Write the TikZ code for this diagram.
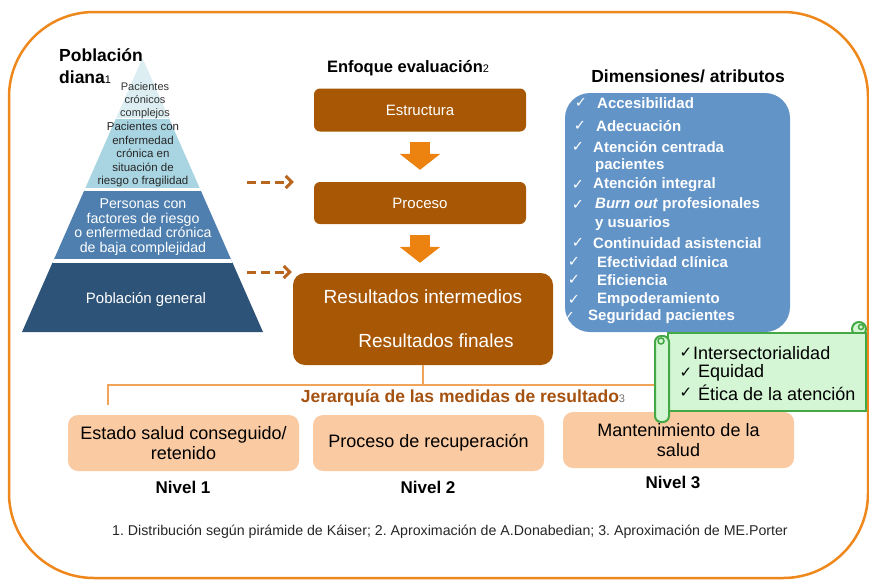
\documentclass[tikz,border=0pt]{standalone}
\usepackage{fontspec}
\setmainfont{Liberation Sans}
\newfontfamily\chkfont{DejaVu Sans}
\usetikzlibrary{arrows.meta}

\definecolor{frameor}{RGB}{238,136,28}
\definecolor{boxbrown}{RGB}{168,88,4}
\definecolor{arrowor}{RGB}{236,130,16}
\definecolor{dashor}{RGB}{184,102,30}
\definecolor{lineor}{RGB}{242,163,90}
\definecolor{peach}{RGB}{250,202,162}
\definecolor{jerbrown}{RGB}{165,81,15}
\definecolor{attrblue}{RGB}{99,148,200}
\definecolor{pyrA}{RGB}{220,238,242}
\definecolor{pyrB}{RGB}{169,213,227}
\definecolor{pyrC}{RGB}{78,127,175}
\definecolor{pyrD}{RGB}{46,83,120}
\definecolor{scrollfill}{RGB}{212,246,212}
\definecolor{scrollline}{RGB}{68,168,68}

\newcommand\fsz[2]{\fontsize{#1}{#2}\selectfont}
\newcommand\checkmk{{\chkfont ✓}}
\frenchspacing

\tikzset{
  evalbox/.style={fill=boxbrown, rounded corners=6pt, text=white, font=\fsz{15}{18},
    minimum width=212pt, minimum height=43pt},
  lvlbox/.style={fill=peach, rounded corners=10pt, minimum width=231pt, minimum height=56pt,
    font=\fsz{18}{20}, align=center},
  downarrow/.style={arrowor, line width=20pt, -{Triangle[length=16pt,width=40pt]}},
  dasharrow/.style={dashor, line width=3pt, dash pattern=on 9pt off 5pt,
    -{Straight Barb[length=6pt,width=12pt]}},
  linkline/.style={lineor, line width=1.5pt},
  attr/.style={anchor=west, text=white, font=\bfseries\fsz{15}{17}},
  attrchk/.style={text=white, font=\fsz{14.5}{14.5}},
  scroll/.style={fill=scrollfill, draw=scrollline, line width=2pt},
}

\begin{document}
\begin{tikzpicture}[x=1pt, y=-1pt, every node/.style={inner sep=0pt}]
    \useasboundingbox (0,0) rectangle (869,579);
    % outer frame
    \draw[frameor, line width=2.5pt, rounded corners=85pt] (9,12) rectangle (868,578);

    % pyramid
    \coordinate (apex) at (142.5,58);
    \coordinate (bl) at (22,332);
    \coordinate (br) at (263,332);
    \begin{scope}
      \clip (apex) -- (bl) -- (br) -- cycle;
      \fill[pyrA] (0,50) rectangle (300,118);
      \fill[pyrB] (0,118) rectangle (300,189.5);
      \fill[pyrC] (0,189.5) rectangle (300,261);
      \fill[pyrD] (0,261) rectangle (300,340);
      \draw[white, line width=1pt] (0,118) -- (300,118);
      \draw[white, line width=3pt] (0,189.5) -- (300,189.5);
      \draw[white, line width=3.5pt] (0,261) -- (300,261);
    \end{scope}
    \node[anchor=west, align=left, font=\bfseries\fsz{17.5}{22}] (popt) at (59,66)
      {Población\\diana{\mdseries\fsz{11}{11}1}};
    \node[font=\fsz{11}{13}, align=center, text=black!80] (pyr1) at (145,101) {Pacientes\\crónicos\\complejos};
    \node[font=\fsz{11.5}{13.5}, align=center, text=black!85] (pyr2) at (143,155)
      {Pacientes con\\enfermedad\\crónica en\\situación de\\riesgo o fragilidad};
    \node[font=\fsz{14.2}{14.7}, align=center, text=white] (pyr3) at (143,227)
      {Personas con\\factores de riesgo\\o enfermedad crónica\\de baja complejidad};
    \node[font=\fsz{15}{18}, text=white] (pyr4) at (146,300) {Población general};

    % evaluation column
    \node[font=\bfseries\fsz{16.5}{20}] (enf) at (408,68) {Enfoque evaluación{\mdseries\fsz{11}{11}2}};
    \node[evalbox] (estr) at (420,110) {Estructura};
    \node[evalbox, minimum height=42pt] (proc) at (420,203) {Proceso};
    \node[evalbox, rounded corners=12pt, minimum width=260pt, minimum height=92pt,
      font=\fsz{19}{44}, align=center] (res) at (423,319)
      {Resultados intermedios\\\hspace*{26pt}Resultados finales};
    \draw[downarrow, shorten <=10pt, shorten >=12pt] (estr) -- (proc);
    \draw[downarrow, shorten <=11pt, shorten >=10pt] (proc.south) -- (proc.south |- res.north);

    % dashed links from pyramid
    \coordinate (dA) at (247,182);
    \coordinate (dB) at (247,272);
    \draw[dasharrow, shorten >=20pt] (dA) -- (dA -| proc.west);
    \draw[dasharrow, shorten >=1pt] (dB) -- (dB -| res.west);

    % hierarchy
    \coordinate (jl) at (108,405);
    \coordinate (jr) at (660,385);
    \draw[linkline] (jl) |- (jr);
    \draw[linkline] (res.south) -- (res.south |- jr);
    \node[font=\bfseries\fsz{17.5}{20}, text=jerbrown] (jer) at (463,398)
      {Jerarquía de las medidas de resultado{\mdseries\fsz{11}{11}\color{black!55}3}};
    \node[lvlbox] (lv1) at (183.5,443) {Estado salud conseguido/\\retenido};
    \node[lvlbox] (lv2) at (428.5,443) {Proceso de recuperación};
    \node[lvlbox] (lv3) at (678.5,440) {Mantenimiento de la\\salud};
    \node[font=\bfseries\fsz{17}{20}] (nv1) at (183,487) {Nivel 1};
    \node[font=\bfseries\fsz{17}{20}] (nv2) at (428,487) {Nivel 2};
    \node[font=\bfseries\fsz{17}{20}] (nv3) at (673,482) {Nivel 3};

    % dimensions
    \node[font=\bfseries\fsz{17.5}{20}] (dimt) at (688,76) {Dimensiones/ atributos};
    \node[fill=attrblue, rounded corners=25pt, minimum width=225pt, minimum height=239pt] (attrs) at (677.5,212.5) {};
    \foreach \ty/\cx/\tx/\txt [count=\i] in {
        103/581/597/Accesibilidad,
        126/580/596/Adecuación,
        147/578/593/Atención centrada,
        185/578/593/Atención integral,
        205/578/595/{\textit{Burn out} profesionales},
        243/578/593/Continuidad asistencial,
        262/574/597/Efectividad clínica,
        280/574/597/Eficiencia,
        300/574/597/Empoderamiento,
        317/569/588/Seguridad pacientes}
      {
      \node[attrchk] (ck\i) at (\cx,\ty) {\checkmk};
      \node[attr] (at\i) at (\tx,\ty) {\txt};
      }
    \node[attr] (at3b) at (595,166) {pacientes};
    \node[attr] (at5b) at (595,224) {y usuarios};

    % scroll
    \filldraw[scroll] (859,329) circle (7pt);
    \filldraw[scroll] (668,333) rectangle (866,411);
    \filldraw[scroll, rounded corners=6pt] (655,336) rectangle (669,422);
    \draw[scrollline, line width=1.5pt] (661,341) circle (3pt);
    \draw[scrollline, line width=1.5pt] (861,327) circle (2.5pt);
    \foreach \ty/\tx/\txt [count=\i] in {353/693/Intersectorialidad, 373/698/Equidad, 393/698/Ética de la atención}
      {
      \node[font=\fsz{15}{15}] (sck\i) at (686,\ty) {\checkmk};
      \node[anchor=west, font=\fsz{18}{20}] (sc\i) at (\tx,\ty) {\txt};
      }

    % footnote
    \node[font=\fsz{14.2}{15}, text=black!85] (foot) at (450,532)
      {1. Distribución según pirámide de Káiser; 2. Aproximación de A.Donabedian; 3. Aproximación de ME.Porter};
\end{tikzpicture}
\end{document}
